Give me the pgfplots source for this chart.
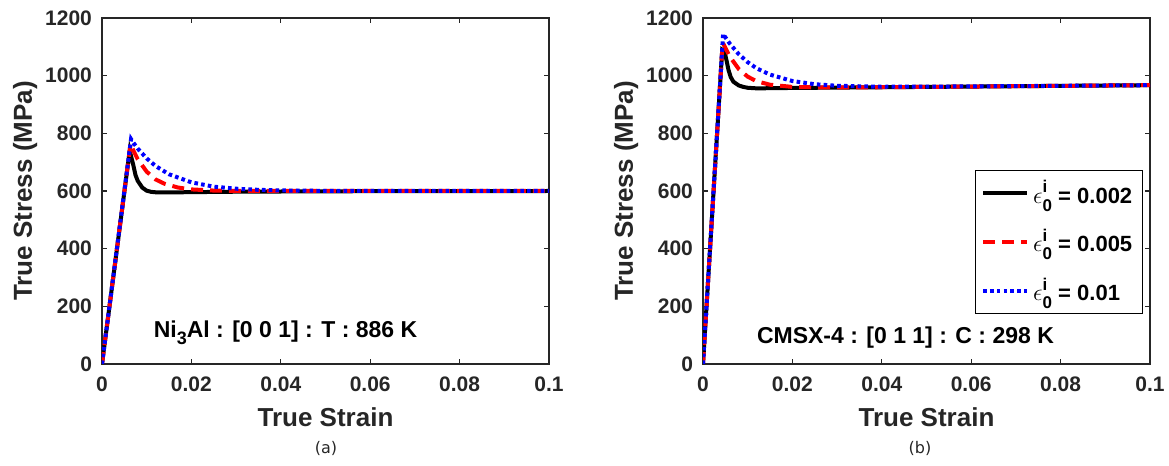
\documentclass[border=0pt]{standalone}
\usepackage{fontspec}
\usepackage{amsmath}
\setmainfont{Liberation Sans}
\newfontfamily\capfont{DejaVu Sans}
\usepackage{pgfplots}
\pgfplotsset{compat=1.18}
\definecolor{axgray}{HTML}{262626}
\newcommand\eps{{\fontsize{12.5}{13}\selectfont$\epsilon$}\rlap{\raisebox{5.2pt}{\fontsize{8.5}{9}\selectfont i}}\raisebox{-4pt}{\fontsize{8.5}{9}\selectfont 0}}
\pgfplotsset{mystyle/.style={
  scale only axis, width=223.5pt, height=173pt,
  xmin=0, xmax=0.1, ymin=0, ymax=1200,
  xtick={0,0.02,0.04,0.06,0.08,0.1}, xticklabels={0,0.02,0.04,0.06,0.08,0.1},
  ytick={0,200,400,600,800,1000,1200}, yticklabels={0,200,400,600,800,1000,1200},
  tick align=inside, major tick length=2.5pt,
  axis line style={axgray, line width=0.6pt},
  every tick/.style={axgray, line width=0.6pt},
  tick label style={font=\fontsize{10.5}{12}\selectfont\bfseries, text=axgray},
  xticklabel style={yshift=-3pt},
  yticklabel style={xshift=-1.5pt},
  label style={font=\fontsize{13}{15}\selectfont\bfseries, text=axgray},
  xlabel={True Strain}, ylabel={True Stress (MPa)},
  xlabel style={at={(axis description cs:0.5,-0.155)}, anchor=center},
  ylabel style={at={(axis description cs:-0.172,0.5)}, anchor=center},
  every axis plot/.append style={line width=2pt},
  blk/.style={black, solid},
  rd/.style={red, dash pattern=on 6pt off 3.5pt},
  bl/.style={blue, dash pattern=on 1.8pt off 1.6pt},
}}
\begin{document}
\begin{tikzpicture}
\useasboundingbox (0,0) rectangle (584.5pt,233pt);
\begin{axis}[mystyle, at={(51pt,51pt)}, anchor=south west]
\addplot[blk] coordinates {(0,0) (0.0062,740) (0.0066,715) (0.007,690) (0.0075,655) (0.008,635) (0.009,612) (0.010,601) (0.011,597) (0.012,595.5) (0.015,595) (0.02,596) (0.03,597.5) (0.05,599) (0.1,600)};
\addplot[rd] coordinates {(0,0) (0.0064,765) (0.007,741) (0.008,710) (0.010,667) (0.012,640) (0.014,625) (0.017,612) (0.02,605.5) (0.025,601.5) (0.03,600.3) (0.1,600)};
\addplot[bl] coordinates {(0,0) (0.0065,780) (0.007,768) (0.008,747) (0.010,713) (0.012,686.5) (0.015,658) (0.02,630) (0.025,615) (0.03,608) (0.035,604) (0.04,602) (0.05,600.5) (0.1,600)};
\node[anchor=west, font=\fontsize{11.5}{13}\selectfont\bfseries] at (axis cs:0.0100,110) {Ni\raisebox{-3.5pt}{\fontsize{9}{9}\selectfont 3}Al : [0 0 1] : T : 886 K};
\end{axis}
\begin{axis}[mystyle, at={(351.5pt,51pt)}, anchor=south west,
  legend style={at={(0.984,0.561)}, anchor=north east, draw=black, line width=0.6pt,
    font=\fontsize{11}{13}\selectfont\bfseries, row sep=7.5pt, inner sep=3pt,
    legend cell align=left},
  legend image code/.code={\draw[#1] (0pt,0pt) -- (22pt,0pt);}]
\addplot[blk] coordinates {(0,0) (0.0043,1090) (0.0048,1085) (0.0053,1050) (0.0057,1020) (0.0062,995) (0.0068,979) (0.008,966) (0.009,961) (0.010,958) (0.012,956) (0.015,956.5) (0.02,957.4) (0.04,959.8) (0.06,962.2) (0.08,964.6) (0.1,967)};
\addlegendentry{\eps\ = 0.002}
\addplot[rd] coordinates {(0,0) (0.0044,1115) (0.005,1097) (0.006,1066) (0.008,1023) (0.010,996.5) (0.012,980.5) (0.015,968.6) (0.02,961) (0.025,959.5) (0.03,959) (0.04,959.9) (0.06,962.2) (0.08,964.6) (0.1,967)};
\addlegendentry{\eps\ = 0.005}
\addplot[bl] coordinates {(0,0) (0.0045,1145) (0.005,1133) (0.006,1111) (0.008,1074.5) (0.010,1046.7) (0.012,1025.5) (0.015,1003.6) (0.02,981.4) (0.025,970.3) (0.03,964.9) (0.04,961.5) (0.05,962) (0.06,962.8) (0.08,964.8) (0.1,967)};
\addlegendentry{\eps\ = 0.01}
\node[anchor=west, font=\fontsize{11.5}{13}\selectfont\bfseries] at (axis cs:0.0105,90) {CMSX-4 : [0 1 1] : C : 298 K};
\end{axis}
\node[font=\capfont\fontsize{8}{10}\selectfont, text=axgray] at (163pt,9pt) {(a)};
\node[font=\capfont\fontsize{8}{10}\selectfont, text=axgray] at (460pt,9pt) {(b)};
\end{tikzpicture}
\end{document}
